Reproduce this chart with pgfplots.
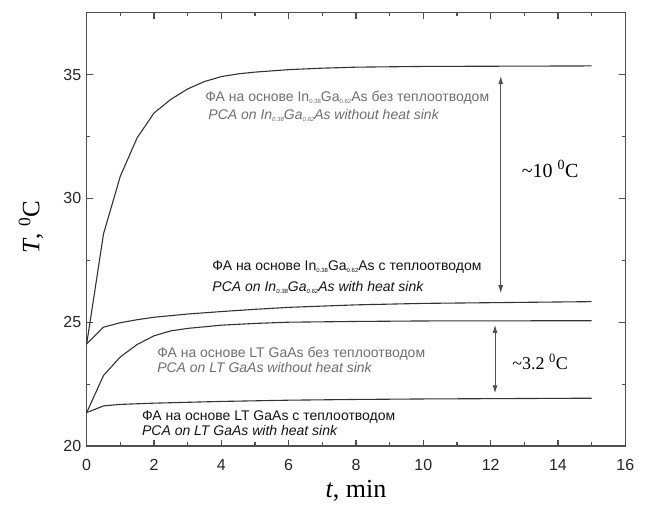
\documentclass[border=0pt]{standalone}
\usepackage{pgfplots}
\pgfplotsset{compat=1.18}
\usepackage{fontspec}
\setmainfont{Liberation Sans}
\newfontfamily\tnr{Liberation Serif}
\usetikzlibrary{arrows.meta}

\definecolor{axisgray}{HTML}{505050}
\definecolor{curve}{HTML}{333333}
\definecolor{lblgray}{HTML}{6E6E6E}
\definecolor{lbldark}{HTML}{141414}

\newcommand{\sub}[1]{\raisebox{-2.2pt}{\fontsize{6}{6}\selectfont #1}}

% curves: time (min) vs temperature (C)
\pgfplotstableread{
t T
0 24.12
0.5 28.57
1 30.90
1.5 32.45
2 33.45
2.5 34.00
3 34.42
3.5 34.72
4 34.92
4.5 35.03
5 35.10
6 35.20
7 35.26
8 35.30
10 35.33
15 35.35
}\inNoSink
\pgfplotstableread{
t T
0 24.12
0.5 24.80
1 24.98
1.5 25.10
2 25.20
3 25.33
4 25.43
5 25.52
6 25.60
8 25.70
10 25.76
15 25.83
}\inSink
\pgfplotstableread{
t T
0 21.35
0.5 22.85
1 23.60
1.5 24.10
2 24.45
2.5 24.65
3 24.75
4 24.88
5 24.95
6 25.00
8 25.03
10 25.05
15 25.06
}\ltNoSink
\pgfplotstableread{
t T
0 21.35
0.5 21.62
1 21.68
2 21.73
4 21.80
6 21.85
8 21.88
10 21.90
15 21.93
}\ltSink

\begin{document}
\begin{tikzpicture}
\begin{axis}[
    scale only axis,
    width=538.6pt, height=433.3pt,
    xmin=0, xmax=16, ymin=20, ymax=37.5,
    xtick={0,2,...,16}, ytick={20,25,30,35},
    minor x tick num=1, minor y tick num=1,
    tick pos=both, tick align=inside,
    major tick length=6pt, minor tick length=3.5pt,
    axis line style={axisgray, line width=1.2pt},
    every tick/.style={axisgray, line width=1.1pt},
    /pgf/number format/assume math mode=true,
    ticklabel style={font=\fontsize{16}{18}\selectfont, text=black!85},
    xticklabel style={yshift=-10pt},
    yticklabel style={xshift=-2pt},
    xlabel={\tnr\textit{t}, min},
    ylabel={\tnr\textit{T}, \textsuperscript{0}C},
    xlabel style={font=\fontsize{26}{30}\selectfont, at={(axis description cs:0.5,0)}, anchor=center, yshift=-45pt},
    ylabel style={font=\fontsize{25}{29}\selectfont, at={(axis description cs:-0.1034,0.505)}, anchor=center},
    clip=false,
]
\addplot[curve, line width=1.1pt] table[x=t, y=T] {\inNoSink};
\addplot[curve, line width=1.1pt] table[x=t, y=T] {\inSink};
\addplot[curve, line width=1.1pt] table[x=t, y=T] {\ltNoSink};
\addplot[curve, line width=1.1pt] table[x=t, y=T] {\ltSink};

\begin{scope}[every node/.style={font=\fontsize{14}{16}\selectfont, anchor=base west, inner sep=0pt}]
\node[text=lblgray] at (axis cs:3.52,33.93) {ФА на основе In\sub{0.38}Ga\sub{0.62}As без теплоотводом};
\node[text=lblgray] at (axis cs:3.61,33.20) {\itshape PCA on In\sub{0.38}Ga\sub{0.62}As without heat sink};
\node[text=lbldark] at (axis cs:3.73,27.10) {ФА на основе In\sub{0.38}Ga\sub{0.62}As с теплоотводом};
\node[text=lbldark] at (axis cs:3.73,26.25) {\itshape PCA on In\sub{0.38}Ga\sub{0.62}As with heat sink};
\node[text=lblgray] at (axis cs:2.09,23.56) {ФА на основе LT GaAs без теплоотводом};
\node[text=lblgray] at (axis cs:2.09,22.98) {\itshape PCA on LT GaAs without heat sink};
\node[text=lbldark] at (axis cs:1.64,21.04) {ФА на основе LT GaAs с теплоотводом};
\node[text=lbldark] at (axis cs:1.64,20.44) {\itshape PCA on LT GaAs with heat sink};
\end{scope}

\draw[axisgray, line width=0.9pt, {Latex[length=8pt,width=5pt]}-{Latex[length=8pt,width=5pt]}] (axis cs:12.3,34.94) -- (axis cs:12.3,26.17);
\draw[axisgray, line width=0.9pt, {Latex[length=8pt,width=5pt]}-{Latex[length=8pt,width=5pt]}] (axis cs:12.13,24.89) -- (axis cs:12.13,22.13);
\node[font=\tnr\fontsize{20}{24}\selectfont] at (axis cs:13.77,31.2) {\textasciitilde10 \textsuperscript{0}C};
\node[font=\tnr\fontsize{18}{22}\selectfont] at (axis cs:13.47,23.4) {\textasciitilde3.2 \textsuperscript{0}C};
\end{axis}
\path[use as bounding box] ([shift={(-86.7pt,-60pt)}]current axis.south west) rectangle ([shift={(20.7pt,12.7pt)}]current axis.north east);
\end{tikzpicture}
\end{document}
